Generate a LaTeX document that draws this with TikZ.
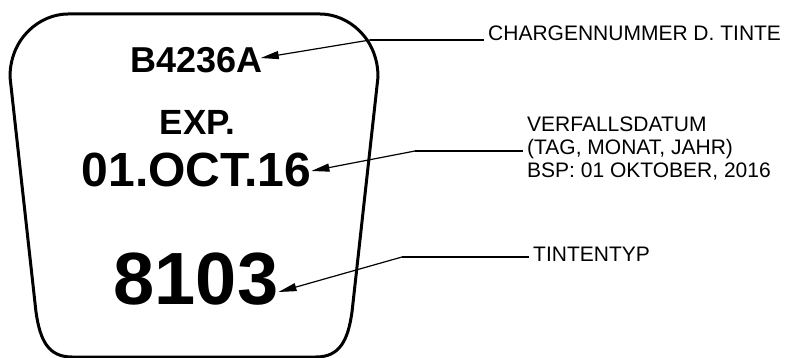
\documentclass[tikz,border=0pt]{standalone}
\usepackage{fontspec}
\setmainfont{Liberation Sans}
\usepackage{tikz}
\usetikzlibrary{arrows.meta, positioning, calc}

\begin{document}
\begin{tikzpicture}[x=1pt, y=-1pt,
  stamp/.style={font=\bfseries, inner sep=0pt, anchor=base},
  lbl/.style={font={\fontsize{21}{23}\selectfont}, inner xsep=4pt, inner ysep=0pt, anchor=base west, align=left},
  leader/.style={line width=1.2pt, -{Triangle[length=18pt, width=8pt]}}]
  \useasboundingbox (0,0) rectangle (785,358);
  % Ink label outline
  \draw[line width=3pt, line join=round] (68,14) -- (320,14)
    .. controls (348,14) and (378,38) .. (378,77) -- (352,312)
    .. controls (348,340) and (340,357) .. (316,357) -- (72,357)
    .. controls (48,357) and (40,340) .. (36,312) -- (10,77)
    .. controls (10,38) and (40,14) .. (68,14) -- cycle;
  % Printed codes
  \node[stamp, font={\fontsize{36}{40}\selectfont\bfseries}] (lot) at (196.5,73) {B4236A};
  \node[stamp, font={\fontsize{35}{40}\selectfont\bfseries}] (exp) at (197.5,135) {EXP.};
  \node[stamp, font={\fontsize{48}{52}\selectfont\bfseries}] (date) at (196.5,187) {01.OCT.16};
  \node[stamp, font={\fontsize{74}{80}\selectfont\bfseries}] (ink) at (196,305) {8103};
  % Callout texts
  \node[lbl] (lotlbl) at (484,41) {CHARGENNUMMER D. TINTE};
  \node[lbl] (datelbl) at (523,178) {VERFALLSDATUM\\(TAG, MONAT, JAHR)\\BSP: 01 OKTOBER, 2016};
  \node[lbl] (inklbl) at (529,262) {TINTENTYP};
  % Leader lines
  \coordinate (k1) at (370,40);
  \coordinate (k2) at (415,151);
  \coordinate (k3) at (402,257);
  \draw[line width=1.2pt] (k1) -- (k1 -| lotlbl.west);
  \draw[line width=1.2pt] (k2) -- (k2 -| datelbl.west);
  \draw[line width=1.2pt] (k3) -- (k3 -| inklbl.west);
  \draw[leader] (k1) -- ([xshift=-2pt, yshift=15pt]lot.base east);
  \draw[leader] (k2) -- ([yshift=16pt]date.base east);
  \draw[leader] (k3) -- ([yshift=13pt]ink.base east);
\end{tikzpicture}
\end{document}
